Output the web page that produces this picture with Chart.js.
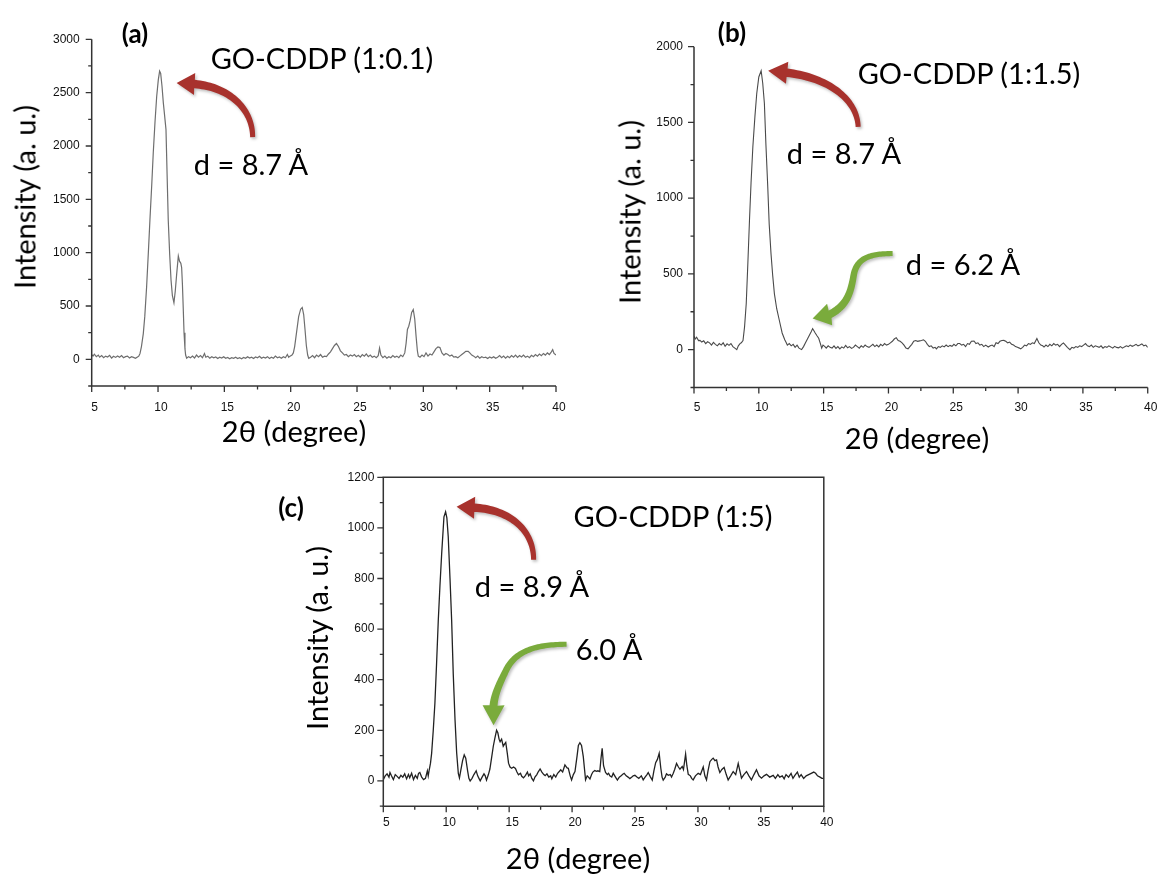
<!DOCTYPE html>
<html>
<head>
<meta charset="utf-8">
<title>XRD patterns of GO-CDDP</title>
<script src="https://cdn.jsdelivr.net/npm/chart.js@4.4.0/dist/chart.umd.min.js"></script>
<style>
  html, body { margin: 0; padding: 0; background: #ffffff; }
  #page { position: relative; width: 1167px; height: 874px; overflow: hidden; background: #ffffff; }
  canvas { position: absolute; }
  .t { position: absolute; font-family: Lato, "Open Sans", sans-serif; color: #000; white-space: nowrap;
       line-height: 1; transform: translate(-50%, -50%); font-size: 29px; }
  .b { font-weight: 700; font-size: 26px; }
  .v { transform: translate(-50%, -50%) rotate(-90deg); }
</style>
</head>
<body>
<div id="page">
  <canvas id="chartA" width="580" height="440" style="left:0px;top:0px"></canvas>
  <canvas id="chartB" width="567" height="440" style="left:600px;top:0px"></canvas>
  <canvas id="chartC" width="560" height="390" style="left:300px;top:460px"></canvas>

  <!-- panel (a) -->
  <div class="t b" style="left:135px;top:33px">(a)</div>
  <div class="t" style="left:322px;top:57px">GO-CDDP (1:0.1)</div>
  <div class="t" style="left:251px;top:163px">d = 8.7 Å</div>
  <div class="t v" style="left:24px;top:197px">Intensity (a. u.)</div>
  <div class="t" style="left:294px;top:430px">2θ (degree)</div>

  <!-- panel (b) -->
  <div class="t b" style="left:732px;top:32px">(b)</div>
  <div class="t" style="left:969px;top:72px">GO-CDDP (1:1.5)</div>
  <div class="t" style="left:844px;top:152px">d = 8.7 Å</div>
  <div class="t" style="left:963px;top:263px">d = 6.2 Å</div>
  <div class="t v" style="left:629px;top:212px">Intensity (a. u.)</div>
  <div class="t" style="left:917px;top:437px">2θ (degree)</div>

  <!-- panel (c) -->
  <div class="t b" style="left:291px;top:507px">(c)</div>
  <div class="t" style="left:673px;top:515px">GO-CDDP (1:5)</div>
  <div class="t" style="left:532px;top:585px">d = 8.9 Å</div>
  <div class="t" style="left:609px;top:648px">6.0 Å</div>
  <div class="t v" style="left:316px;top:638px">Intensity (a. u.)</div>
  <div class="t" style="left:578px;top:857px">2θ (degree)</div>
</div>

<script>
// ---- tick labels ----
const xTickLabels = [5, 10, 15, 20, 25, 30, 35, 40];
const yTicksA = [0, 500, 1000, 1500, 2000, 2500, 3000];
const yTicksB = [0, 500, 1000, 1500, 2000];
const yTicksC = [0, 200, 400, 600, 800, 1000, 1200];

// ---- diffraction scans: [2θ (deg), intensity (a.u.)] ----
const scanA = [
  [5.0,45],[5.1,30],[5.2,48],[5.35,25],[5.5,40],[5.6,20],[5.75,35],[5.9,15],[6.05,30],[6.2,22],
  [6.35,38],[6.5,12],[6.65,28],[6.8,18],[6.95,32],[7.1,20],[7.25,35],[7.4,15],[7.55,25],[7.7,30],
  [7.85,12],[8.0,25],[8.15,18],[8.3,10],[8.45,22],[8.55,30],
  [8.64,53],[8.75,120],[8.89,241],[9.0,400],[9.14,680],[9.27,1000],[9.39,1307],[9.52,1620],[9.64,1934],[9.77,2220],
  [9.9,2466],[10.02,2620],[10.12,2702],[10.2,2680],[10.3,2560],[10.4,2404],[10.5,2280],[10.6,2153],[10.68,1750],[10.77,1307],
  [10.88,980],[10.98,743],[11.08,600],[11.2,530],[11.3,640],[11.41,806],[11.53,968],[11.62,920],[11.72,900],[11.78,860],
  [11.84,700],[11.9,480],[11.96,250],[12.03,100],[12.08,40],[12.16,10],
  [12.3,25],[12.45,15],[12.6,30],[12.75,12],[12.9,40],[13.05,20],[13.2,35],[13.35,15],[13.5,55],[13.6,20],
  [13.75,30],[13.9,10],[14.05,25],[14.2,15],[14.35,22],[14.5,8],[14.65,20],[14.8,12],[14.95,25],[15.1,10],
  [15.25,18],[15.4,6],[15.55,15],[15.7,10],[15.85,20],[16.0,8],[16.15,15],[16.3,5],[16.45,18],[16.6,10],
  [16.75,25],[16.9,12],[17.05,20],[17.2,8],[17.35,22],[17.5,15],[17.65,28],[17.8,10],[17.95,20],[18.1,12],
  [18.25,25],[18.4,8],[18.55,20],[18.7,10],[18.85,30],[19.0,15],[19.15,22],[19.3,10],[19.45,25],[19.6,15],
  [19.75,45],[19.85,20],[19.95,30],[20.1,40],[20.2,60],
  [20.3,120],[20.45,260],[20.6,400],[20.75,470],[20.87,486],[20.98,420],[21.08,280],[21.18,130],[21.28,40],[21.36,10],
  [21.5,20],[21.65,35],[21.8,15],[21.95,40],[22.1,25],[22.25,45],[22.4,20],[22.55,30],[22.7,25],[22.85,50],
  [23.0,70],[23.15,100],[23.3,130],[23.45,148],[23.6,120],[23.75,80],[23.9,60],[24.05,40],[24.2,45],[24.35,25],
  [24.5,40],[24.65,30],[24.8,45],[24.95,25],[25.1,38],[25.25,20],[25.4,45],[25.55,30],[25.7,50],[25.85,25],
  [26.0,40],[26.15,20],[26.3,30],[26.45,15],[26.6,35],[26.7,106],[26.8,40],[26.95,15],[27.1,30],[27.25,10],
  [27.4,25],[27.55,15],[27.7,35],[27.85,20],[28.0,30],[28.15,15],[28.3,40],[28.45,25],[28.6,60],
  [28.7,150],[28.8,280],[28.9,310],[29.0,360],[29.12,440],[29.24,467],[29.35,380],[29.45,220],[29.55,80],[29.62,30],
  [29.75,20],[29.9,40],[30.05,25],[30.2,60],[30.35,30],[30.5,50],[30.65,40],[30.8,70],
  [30.95,100],[31.1,116],[31.25,110],[31.4,60],[31.55,40],[31.7,55],[31.85,45],[32.0,30],[32.15,40],[32.3,20],
  [32.45,25],[32.6,15],[32.75,30],[32.9,45],[33.05,60],[33.2,75],[33.38,75],[33.5,60],[33.65,40],[33.8,30],
  [33.95,15],[34.1,30],[34.25,10],[34.4,25],[34.55,15],[34.7,20],[34.85,8],[35.0,22],[35.15,12],[35.3,25],
  [35.45,10],[35.6,20],[35.75,35],[35.9,15],[36.05,30],[36.2,10],[36.35,28],[36.5,15],[36.65,35],[36.8,20],
  [36.95,40],[37.1,18],[37.25,35],[37.4,22],[37.55,40],[37.7,20],[37.85,30],[38.0,15],[38.15,38],[38.3,25],
  [38.45,45],[38.6,30],[38.75,50],[38.9,35],[39.05,55],[39.2,40],[39.35,60],[39.5,45],[39.65,70],[39.75,90],
  [39.85,55],[40.0,40]
];

const scanB = [
  [5.0,88],[5.1,70],[5.2,82],[5.35,60],[5.46,61],[5.6,50],[5.75,58],[5.9,40],[6.05,52],[6.2,45],
  [6.35,30],[6.5,48],[6.65,35],[6.8,25],[6.95,40],[7.1,30],[7.25,45],[7.4,22],[7.55,38],[7.7,28],
  [7.85,40],[8.0,20],[8.15,10],[8.3,0],[8.42,25],[8.55,40],[8.65,45],
  [8.78,60],[8.9,150],[9.03,304],[9.15,560],[9.28,854],[9.4,1100],[9.54,1339],[9.7,1540],[9.84,1691],[10.0,1800],
  [10.18,1841],[10.3,1760],[10.43,1625],[10.55,1350],[10.69,1074],[10.8,830],[10.94,634],[11.07,490],[11.2,370],[11.38,270],
  [11.58,194],[11.8,110],[12.0,65],[12.09,50],
  [12.2,30],[12.35,40],[12.5,25],[12.65,35],[12.8,15],[12.95,30],[13.1,10],[13.3,0],[13.45,20],[13.6,45],
  [13.75,70],[13.9,95],[14.05,120],[14.15,139],[14.25,125],[14.35,110],[14.5,90],[14.62,75],[14.75,40],[14.85,10],
  [14.95,30],[15.1,20],[15.2,10],[15.35,25],[15.5,15],[15.65,10],[15.8,25],[15.95,8],[16.1,20],[16.25,5],
  [16.4,18],[16.55,10],[16.7,28],[16.85,12],[17.0,20],[17.15,8],[17.3,15],[17.45,30],[17.6,20],[17.75,10],
  [17.9,25],[18.05,15],[18.2,30],[18.35,20],[18.5,15],[18.65,25],[18.8,35],[18.95,20],[19.1,30],[19.25,18],
  [19.4,35],[19.55,25],[19.7,40],[19.85,30],[20.0,35],[20.15,45],[20.3,55],[20.45,70],[20.6,79],[20.75,60],
  [20.9,55],[21.05,45],[21.2,30],[21.35,10],[21.51,5],[21.65,20],[21.8,35],[21.95,55],[22.1,60],[22.25,55],
  [22.4,58],[22.55,60],[22.7,65],[22.85,55],[23.0,35],[23.15,20],[23.3,25],[23.45,10],[23.6,15],[23.7,5],
  [23.85,20],[24.0,15],[24.15,25],[24.3,18],[24.45,30],[24.6,20],[24.75,28],[24.9,22],[25.05,35],[25.2,25],
  [25.35,40],[25.5,40],[25.65,30],[25.8,35],[25.95,20],[26.1,40],[26.25,35],[26.4,55],[26.6,57],[26.75,40],
  [26.9,45],[27.05,30],[27.2,35],[27.35,20],[27.5,30],[27.7,17],[27.85,25],[28.0,30],[28.15,20],[28.3,45],
  [28.45,40],[28.6,55],[28.75,60],[28.9,61],[29.05,55],[29.2,45],[29.35,50],[29.5,35],[29.65,30],[29.8,20],
  [29.95,15],[30.1,10],[30.2,5],[30.35,15],[30.5,30],[30.65,25],[30.8,40],[30.95,35],[31.1,45],[31.25,40],
  [31.45,73],[31.6,45],[31.75,30],[31.9,25],[32.0,17],[32.15,30],[32.3,20],[32.45,35],[32.6,25],[32.75,40],
  [32.9,30],[33.05,35],[33.2,20],[33.35,35],[33.5,44],[33.65,30],[33.8,15],[34.0,0],[34.15,15],[34.3,10],
  [34.45,20],[34.6,15],[34.75,25],[34.9,20],[35.05,30],[35.2,40],[35.35,25],[35.5,20],[35.65,30],[35.8,15],
  [35.95,25],[36.1,20],[36.25,15],[36.4,25],[36.55,10],[36.7,20],[36.85,15],[37.0,25],[37.15,18],[37.3,10],
  [37.45,22],[37.6,15],[37.75,12],[37.9,20],[38.05,10],[38.2,18],[38.35,25],[38.5,20],[38.65,30],[38.8,22],
  [38.95,28],[39.1,35],[39.25,25],[39.4,30],[39.55,38],[39.7,25],[39.85,30],[40.0,15]
];

const scanC = [
  [5.0,5],[5.15,20],[5.3,28],[5.45,15],[5.53,33],[5.65,20],[5.8,5],[5.95,25],[6.1,18],[6.25,10],
  [6.4,22],[6.55,15],[6.7,28],[6.85,8],[7.0,25],[7.1,12],[7.25,30],[7.4,5],[7.55,22],[7.7,10],
  [7.8,30],[7.9,33],[8.05,15],[8.2,5],[8.35,10],[8.5,40],[8.57,20],[8.65,44],
  [8.75,70],[8.84,109],[8.97,200],[9.1,307],[9.23,460],[9.37,636],[9.5,770],[9.64,900],[9.82,1044],[9.95,1064],
  [10.05,1040],[10.16,965],[10.3,800],[10.43,636],[10.56,420],[10.7,241],[10.83,110],[10.96,30],[11.05,12],[11.15,40],
  [11.3,80],[11.43,103],[11.55,90],[11.7,40],[11.8,10],[11.9,0],[12.05,10],[12.2,25],[12.38,40],[12.5,20],
  [12.6,10],[12.7,0],[12.85,15],[13.0,28],[13.1,20],[13.2,3],[13.35,25],[13.47,47],[13.6,90],[13.74,137],
  [13.87,170],[14.0,200],[14.1,190],[14.2,165],[14.28,155],[14.4,165],[14.53,137],[14.63,145],[14.73,152],[14.85,110],
  [14.95,70],[15.07,55],[15.2,50],[15.35,55],[15.5,49],[15.62,35],[15.74,24],[15.9,30],[16.0,18],[16.14,12],
  [16.3,22],[16.45,35],[16.55,20],[16.67,28],[16.8,10],[16.93,0],[17.05,15],[17.2,25],[17.3,35],[17.46,47],
  [17.6,35],[17.75,25],[17.86,21],[18.0,28],[18.15,15],[18.3,20],[18.39,8],[18.55,25],[18.7,15],[18.85,30],
  [19.0,38],[19.1,44],[19.25,35],[19.43,63],[19.6,51],[19.7,50],[19.85,20],[19.96,4],[20.1,25],[20.23,37],
  [20.4,100],[20.5,140],[20.62,151],[20.75,140],[20.89,96],[21.0,40],[21.07,4],[21.2,20],[21.3,15],[21.42,8],
  [21.55,25],[21.65,35],[21.8,41],[21.95,38],[22.05,40],[22.2,37],[22.3,90],[22.39,129],[22.5,60],[22.66,33],
  [22.8,25],[22.9,30],[23.0,20],[23.15,15],[23.27,30],[23.45,15],[23.6,3],[23.75,15],[23.9,20],[24.0,25],
  [24.14,30],[24.3,20],[24.45,15],[24.59,9],[24.75,15],[24.85,20],[24.99,22],[25.15,15],[25.3,10],[25.5,20],
  [25.65,4],[25.8,15],[25.95,25],[26.05,33],[26.2,18],[26.37,3],[26.5,40],[26.64,72],[26.78,85],[26.92,109],
  [27.05,50],[27.15,15],[27.24,3],[27.4,15],[27.5,28],[27.64,22],[27.8,25],[27.9,15],[28.04,30],[28.15,45],
  [28.3,69],[28.45,55],[28.57,46],[28.75,57],[28.85,45],[29.02,106],[29.12,60],[29.23,26],[29.4,20],[29.5,10],
  [29.62,4],[29.8,20],[30.02,30],[30.2,25],[30.42,55],[30.55,20],[30.68,4],[30.8,40],[30.95,76],[31.1,85],
  [31.21,90],[31.35,80],[31.48,83],[31.6,55],[31.74,33],[31.9,45],[32.08,53],[32.25,25],[32.4,4],[32.6,20],
  [32.8,37],[33.0,25],[33.2,69],[33.33,40],[33.46,11],[33.65,25],[33.86,37],[34.05,20],[34.25,4],[34.45,25],
  [34.65,44],[34.85,20],[35.05,11],[35.25,20],[35.45,26],[35.7,15],[35.98,22],[36.15,10],[36.35,25],[36.5,15],
  [36.7,20],[36.85,8],[37.0,25],[37.2,15],[37.4,30],[37.55,10],[37.7,22],[37.9,35],[38.05,15],[38.2,25],
  [38.4,10],[38.6,20],[38.8,25],[39.0,30],[39.2,35],[39.35,30],[39.5,20],[39.7,15],[39.85,10],[40.0,10]
];

// reflections pointed at by the arrows: [2θ, intensity]
const mainPeakA = [10.12, 2702];
const mainPeakB = [10.18, 1841];
const sidePeakB = [14.15, 139];
const mainPeakC = [9.95, 1064];
const sidePeakC = [14.0, 200];

const RED = '#a8322d';
const GREEN = '#7aab3c';

// Origin-style axes: outward major/minor ticks, optional closed frame
const axisFrame = {
  id: 'axisFrame',
  afterDraw(chart, args, o) {
    const ctx = chart.ctx;
    const xs = chart.scales.x, ys = chart.scales.y;
    const {left, right, top, bottom} = chart.chartArea;
    ctx.save();
    ctx.strokeStyle = o.color;
    ctx.lineWidth = o.width;
    ctx.beginPath();
    if (o.box) {
      ctx.rect(left, top, right - left, bottom - top);
    } else {
      ctx.moveTo(left, top);
      ctx.lineTo(left, bottom);
      ctx.lineTo(right, bottom);
    }
    ctx.stroke();
    ctx.lineWidth = o.tickWidth;
    ctx.beginPath();
    const nx = Math.round((xs.max - xs.min) / o.xMinor);
    for (let i = 0; i <= nx; i++) {
      const v = xs.min + i * o.xMinor;
      const px = xs.getPixelForValue(v);
      const len = (i % 2 === 0) ? o.major : o.minor;
      ctx.moveTo(px, bottom);
      ctx.lineTo(px, bottom + len);
    }
    const ny = Math.round((ys.max - ys.min) / o.yMinor);
    for (let i = 0; i <= ny; i++) {
      const v = ys.min + i * o.yMinor;
      const py = ys.getPixelForValue(v);
      const isMajor = Math.abs(v / (o.yMinor * 2) - Math.round(v / (o.yMinor * 2))) < 1e-6;
      const len = isMajor ? o.major : o.minor;
      ctx.moveTo(left, py);
      ctx.lineTo(left - len, py);
    }
    ctx.stroke();
    ctx.restore();
  }
};

// point on a chain of cubic segments, t in [0, segs.length]
function chainPoint(start, segs, t) {
  const k = Math.min(Math.floor(t), segs.length - 1);
  const u = t - k;
  const p0 = k === 0 ? start : segs[k - 1][2];
  const [c1, c2, p3] = segs[k];
  const m = 1 - u;
  const a = m * m * m, b = 3 * m * m * u, c = 3 * m * u * u, d = u * u * u;
  return [a * p0[0] + b * c1[0] + c * c2[0] + d * p3[0],
          a * p0[1] + b * c1[1] + c * c2[1] + d * p3[1]];
}

// curved call-out arrows (tapered shaft) whose tips sit next to a reflection
const calloutArrows = {
  id: 'calloutArrows',
  afterDatasetsDraw(chart, args, o) {
    const ctx = chart.ctx;
    for (const a of (o.items || [])) {
      const tx = chart.scales.x.getPixelForValue(a.at[0]) + a.shift[0];
      const ty = chart.scales.y.getPixelForValue(a.at[1]) + a.shift[1];
      const steps = 40 * a.segs.length;
      const pts = [];
      for (let i = 0; i <= steps; i++) {
        const p = chainPoint(a.tail, a.segs, i * a.segs.length / steps);
        pts.push([tx + p[0], ty + p[1]]);
      }
      const left = [], right = [];
      for (let i = 0; i <= steps; i++) {
        const p = pts[Math.max(0, i - 1)], q = pts[Math.min(steps, i + 1)];
        const dx = q[0] - p[0], dy = q[1] - p[1];
        const L = Math.hypot(dx, dy) || 1;
        const w = (a.w0 + (a.w1 - a.w0) * i / steps) / 2;
        left.push([pts[i][0] - dy / L * w, pts[i][1] + dx / L * w]);
        right.push([pts[i][0] + dy / L * w, pts[i][1] - dx / L * w]);
      }
      ctx.save();
      ctx.shadowColor = 'rgba(0,0,0,0.25)';
      ctx.shadowBlur = 3;
      ctx.shadowOffsetX = 1.5;
      ctx.shadowOffsetY = 2;
      ctx.fillStyle = a.color;
      const n = pts[steps];
      const ux = tx - n[0], uy = ty - n[1];
      const L = Math.hypot(ux, uy);
      const qx = -uy / L * a.head, qy = ux / L * a.head;
      ctx.beginPath();
      ctx.moveTo(left[0][0], left[0][1]);
      for (let i = 1; i <= steps; i++) ctx.lineTo(left[i][0], left[i][1]);
      // arrow head
      ctx.lineTo(n[0] - uy / L * a.w1 / 2 + 0, n[1] + ux / L * a.w1 / 2);
      ctx.lineTo(n[0] + qx, n[1] + qy);
      ctx.lineTo(tx, ty);
      ctx.lineTo(n[0] - qx, n[1] - qy);
      for (let i = steps; i >= 0; i--) ctx.lineTo(right[i][0], right[i][1]);
      ctx.closePath();
      ctx.fill();
      ctx.restore();
    }
  }
};

Chart.register(axisFrame, calloutArrows);

function buildPanel(id, cfg) {
  const ctx = document.getElementById(id);
  return new Chart(ctx, {
    type: 'line',
    data: {
      datasets: [{
        data: cfg.scan.map(p => ({x: p[0], y: p[1]})),
        borderColor: cfg.lineColor,
        borderWidth: cfg.lineWidth,
        pointRadius: 0,
        tension: 0,
        fill: false
      }]
    },
    options: {
      responsive: false,
      animation: false,
      devicePixelRatio: 1,
      layout: { padding: cfg.padding },
      plugins: {
        legend: { display: false },
        tooltip: { enabled: false },
        axisFrame: {
          color: '#333', width: 1.5, tickWidth: 1.3, box: cfg.box,
          major: 6, minor: 3.5, xMinor: 2.5, yMinor: cfg.yMinor
        },
        calloutArrows: { items: cfg.arrows }
      },
      scales: {
        x: {
          type: 'linear', min: 5, max: 40,
          grid: { display: false, drawTicks: false },
          border: { display: false },
          afterBuildTicks: (s) => { s.ticks = xTickLabels.map(v => ({value: v})); },
          afterFit: (s) => { s.height = 40; },
          ticks: {
            callback: (v) => String(v),
            font: { family: '"Liberation Sans", Arial, sans-serif', size: 12 },
            color: '#111', padding: cfg.xPad, labelOffset: 3, maxRotation: 0
          }
        },
        y: {
          type: 'linear', min: cfg.yMin, max: cfg.yMax,
          grid: { display: false, drawTicks: false },
          border: { display: false },
          afterBuildTicks: (s) => { s.ticks = cfg.yTicks.map(v => ({value: v})); },
          afterFit: (s) => { s.width = cfg.yWidth; },
          ticks: {
            callback: (v) => String(v),
            font: { family: '"Liberation Sans", Arial, sans-serif', size: 12 },
            color: '#111', padding: cfg.yPad
          }
        }
      }
    }
  });
}

buildPanel('chartA', {
  scan: scanA, lineColor: '#6e6e6e', lineWidth: 1.2,
  padding: { left: 0, right: 24, top: 39.3, bottom: 14 },
  yWidth: 91.7, yMin: -250, yMax: 3000, yTicks: yTicksA, yMinor: 250,
  xPad: 14, yPad: 12, box: false,
  arrows: [
    { at: mainPeakA, shift: [17, 12], color: RED, w0: 5, w1: 8.5, head: 11,
      tail: [76, 54], segs: [[[76, 26], [53, 4], [18, 1]]] }
  ]
});

buildPanel('chartB', {
  scan: scanB, lineColor: '#4a4a4a', lineWidth: 1.1,
  padding: { left: 0, right: 15.7, top: 46.7, bottom: 12.5 },
  yWidth: 94, yMin: -250, yMax: 2000, yTicks: yTicksB, yMinor: 250,
  xPad: 12.6, yPad: 11, box: false,
  arrows: [
    { at: mainPeakB, shift: [7, 0], color: RED, w0: 5, w1: 8.5, head: 11,
      tail: [90, 56], segs: [[[89, 29], [61, 7], [19, 2]]] },
    { at: sidePeakB, shift: [0, -10], color: GREEN, w0: 5, w1: 8, head: 11,
      tail: [80, -65], segs: [[[56, -65], [44, -60], [41, -43]], [[38, -25], [34, -13], [17, -4]]] }
  ]
});

buildPanel('chartC', {
  scan: scanC, lineColor: '#222222', lineWidth: 1.3,
  padding: { left: 0, right: 36.2, top: 17.3, bottom: 3.8 },
  yWidth: 83.3, yMin: -100, yMax: 1200, yTicks: yTicksC, yMinor: 100,
  xPad: 9.3, yPad: 9, box: true,
  arrows: [
    { at: mainPeakC, shift: [11, -5], color: RED, w0: 5, w1: 8.5, head: 11,
      tail: [77, 53], segs: [[[77, 23], [53, 3], [18, 1]]] },
    { at: sidePeakC, shift: [-3, -5], color: GREEN, w0: 5, w1: 8, head: 11,
      tail: [73, -81], segs: [[[42, -81], [22, -74], [13, -56]], [[6, -42], [1, -31], [0, -20]]] }
  ]
});
</script>
</body>
</html>
